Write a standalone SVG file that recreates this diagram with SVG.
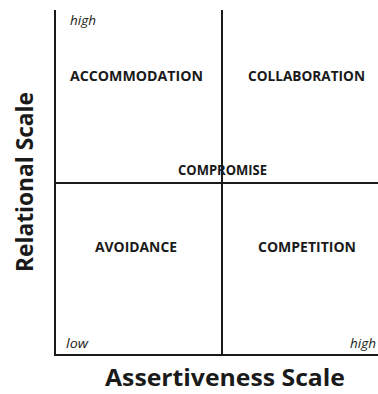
<svg xmlns="http://www.w3.org/2000/svg" width="378" height="394" viewBox="0 0 378 394">
<style>
.ax{stroke:#1a1a1a;stroke-width:2;fill:none}
.lbl{font-family:"Open Sans","Liberation Sans",sans-serif;font-weight:bold;font-size:13.5px;fill:#1a1a1a}
.it{font-family:"Open Sans","Liberation Sans",sans-serif;font-style:italic;font-size:12px;fill:#1a1a1a}
.big{font-family:"Open Sans","Liberation Sans",sans-serif;font-weight:bold;font-size:22.5px;fill:#1a1a1a}
</style>
<rect width="378" height="394" fill="#fff"/>
<g id="connectors">
<line class="ax" x1="55" y1="10" x2="55" y2="356"/>
<line class="ax" x1="54" y1="355" x2="378" y2="355"/>
<line class="ax" x1="222" y1="10" x2="222" y2="355"/>
<line class="ax" x1="55" y1="183" x2="378" y2="183"/>
</g>
<g id="accommodation"><text class="lbl" x="70" y="81" textLength="133" lengthAdjust="spacingAndGlyphs">ACCOMMODATION</text></g>
<g id="collaboration"><text class="lbl" x="248" y="81" textLength="117" lengthAdjust="spacingAndGlyphs">COLLABORATION</text></g>
<g id="compromise"><text class="lbl" x="178" y="175" textLength="89" lengthAdjust="spacingAndGlyphs">COMPROMISE</text></g>
<g id="avoidance"><text class="lbl" x="95" y="252" textLength="82" lengthAdjust="spacingAndGlyphs">AVOIDANCE</text></g>
<g id="competition"><text class="lbl" x="258" y="252" textLength="98" lengthAdjust="spacingAndGlyphs">COMPETITION</text></g>
<g id="high-top"><text class="it" x="70" y="25" textLength="26" lengthAdjust="spacingAndGlyphs">high</text></g>
<g id="low"><text class="it" x="66" y="348" textLength="22" lengthAdjust="spacingAndGlyphs">low</text></g>
<g id="high-right"><text class="it" x="350" y="348" textLength="26" lengthAdjust="spacingAndGlyphs">high</text></g>
<g id="x-axis-title"><text class="big" x="105" y="386" textLength="240" lengthAdjust="spacingAndGlyphs">Assertiveness Scale</text></g>
<g id="y-axis-title"><text class="big" transform="translate(33,272) rotate(-90)" x="0" y="0" textLength="180" lengthAdjust="spacingAndGlyphs">Relational Scale</text></g>
</svg>
